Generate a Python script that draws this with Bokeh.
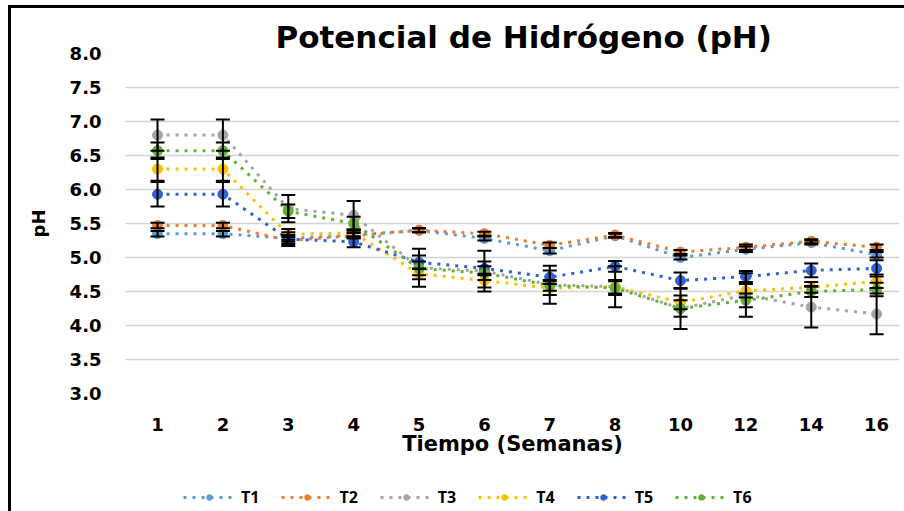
from bokeh.plotting import figure
from bokeh.layouts import column
from bokeh.models import (ColumnDataSource, Whisker, TeeHead, FixedTicker, Range1d,
                          Legend, LegendItem, Title)
from bokeh.embed import file_html
from bokeh.resources import INLINE

weeks = ["1", "2", "3", "4", "5", "6", "7", "8", "10", "12", "14", "16"]
yticks = [3.0, 3.5, 4.0, 4.5, 5.0, 5.5, 6.0, 6.5, 7.0, 7.5, 8.0]

names = ["T1", "T2", "T3", "T4", "T5", "T6"]
t1 = [5.35, 5.35, 5.28, 5.33, 5.40, 5.28, 5.10, 5.32, 5.00, 5.12, 5.22, 5.04]
t2 = [5.47, 5.47, 5.25, 5.32, 5.40, 5.35, 5.18, 5.33, 5.08, 5.15, 5.24, 5.15]
t3 = [6.80, 6.80, 5.72, 5.62, 4.85, 4.80, 4.60, 4.57, 4.25, 4.45, 4.27, 4.17]
t4 = [6.30, 6.30, 5.34, 5.36, 4.76, 4.66, 4.55, 4.57, 4.34, 4.51, 4.56, 4.65]
t5 = [5.93, 5.93, 5.27, 5.23, 4.93, 4.84, 4.71, 4.87, 4.66, 4.72, 4.81, 4.84]
t6 = [6.57, 6.57, 5.68, 5.50, 4.84, 4.77, 4.59, 4.55, 4.25, 4.37, 4.50, 4.53]

e1 = [0.04, 0.04, 0.05, 0.04, 0.03, 0.03, 0.04, 0.03, 0.03, 0.04, 0.03, 0.04]
e2 = [0.04, 0.04, 0.05, 0.04, 0.03, 0.03, 0.04, 0.03, 0.03, 0.04, 0.03, 0.04]
e3 = [0.23, 0.23, 0.20, 0.21, 0.28, 0.30, 0.28, 0.30, 0.30, 0.32, 0.30, 0.30]
e4 = [0.17, 0.17, 0.08, 0.05, 0.08, 0.10, 0.10, 0.10, 0.10, 0.10, 0.08, 0.10]
e5 = [0.18, 0.18, 0.10, 0.08, 0.10, 0.10, 0.10, 0.08, 0.12, 0.08, 0.10, 0.12]
e6 = [0.12, 0.12, 0.10, 0.10, 0.10, 0.10, 0.08, 0.10, 0.12, 0.10, 0.08, 0.10]

colors = ["#5B9BD5", "#ED7D31", "#A5A5A5", "#FFC000", "#2F62D3", "#62B232"]
series = [t1, t2, t3, t4, t5, t6]
errors = [e1, e2, e3, e4, e5, e6]

W = 893
p = figure(width=W, height=473, output_backend="svg", toolbar_location=None,
           x_range=Range1d(-0.49, 11.35), y_range=Range1d(3.0, 8.0),
           min_border_left=114, min_border_right=5, min_border_top=45,
           min_border_bottom=88)
p.outline_line_color = None
p.background_fill_color = "white"
p.border_fill_color = "white"

p.title = Title(text="Potencial de Hidrógeno (pH)", align="left",
                text_font="DejaVu Sans", text_font_size="31px",
                text_font_style="bold", text_color="black", standoff=-2, offset=150)

xs = list(range(len(weeks)))
p.xaxis.ticker = FixedTicker(ticks=xs)
p.xaxis.major_label_overrides = {i: w for i, w in enumerate(weeks)}
p.yaxis.ticker = FixedTicker(ticks=yticks)
p.yaxis.major_label_overrides = {v: f"{v:.1f}" for v in yticks}
for ax in (p.xaxis[0], p.yaxis[0]):
    ax.axis_line_color = None
    ax.major_tick_line_color = None
    ax.minor_tick_line_color = None
    ax.major_label_text_font = "DejaVu Sans"
    ax.major_label_text_font_size = "18px"
    ax.major_label_text_font_style = "bold"
    ax.major_label_text_color = "black"
    ax.axis_label_text_font = "DejaVu Sans"
    ax.axis_label_text_font_style = "bold"
    ax.axis_label_text_color = "black"
p.xaxis.major_label_standoff = 18
p.xaxis.axis_label = "Tiempo (Semanas)"
p.xaxis.axis_label_text_font_size = "21px"
p.xaxis.axis_label_standoff = -2
p.yaxis.major_label_standoff = 18
p.yaxis.axis_label = "pH"
p.yaxis.axis_label_text_font_size = "18px"
p.yaxis.axis_label_standoff = 18

p.xgrid.grid_line_color = None
p.ygrid.grid_line_color = "#d4d4d4"
p.ygrid.grid_line_width = 1.5

# legend strip (a second figure below, holding the legend with matching glyphs)
pl = figure(width=W, height=30, output_backend="svg", toolbar_location=None,
            x_range=Range1d(-0.49, 11.35), y_range=Range1d(100, 101),
            x_axis_location=None, y_axis_location=None,
            min_border_left=0, min_border_right=0, min_border_top=0,
            min_border_bottom=0)
pl.outline_line_color = None
pl.grid.visible = False
pl.border_fill_color = "white"

items = []
for name, vals, errs, col in zip(names, series, errors, colors):
    src = ColumnDataSource(dict(x=xs, y=vals,
                                upper=[v + e for v, e in zip(vals, errs)],
                                lower=[v - e for v, e in zip(vals, errs)]))
    p.line("x", "y", source=src, line_color=col, line_width=3, line_dash="3 6")
    p.scatter("x", "y", source=src, marker="circle", size=10,
              fill_color=col, line_color=col)
    w = Whisker(base="x", upper="upper", lower="lower", source=src,
                line_color="black", line_width=2, level="overlay",
                upper_head=TeeHead(size=14, line_color="black", line_width=2),
                lower_head=TeeHead(size=14, line_color="black", line_width=2))
    p.add_layout(w)
    ln = pl.line("x", "y", source=src, line_color=col, line_width=3, line_dash="3 6")
    sc = pl.scatter("x", "y", source=src, marker="circle", size=8,
                    fill_color=col, line_color=col)
    items.append(LegendItem(label=name, renderers=[ln, sc]))

legend = Legend(items=items, orientation="horizontal", location=(58, 3),
                glyph_width=52, glyph_height=14, label_standoff=6, label_width=18,
                spacing=22, padding=0, margin=0, border_line_color=None,
                background_fill_alpha=0,
                label_text_font="Open Sans", label_text_font_size="16px",
                label_text_font_style="bold", label_text_color="black")
pl.add_layout(legend, "center")

layout = column(p, pl, spacing=0,
                styles={"margin-left": "8px", "margin-top": "5px",
                        "border-left": "3px solid black",
                        "border-top": "3px solid black"})

open("out.html", "w").write(file_html(layout, INLINE))
